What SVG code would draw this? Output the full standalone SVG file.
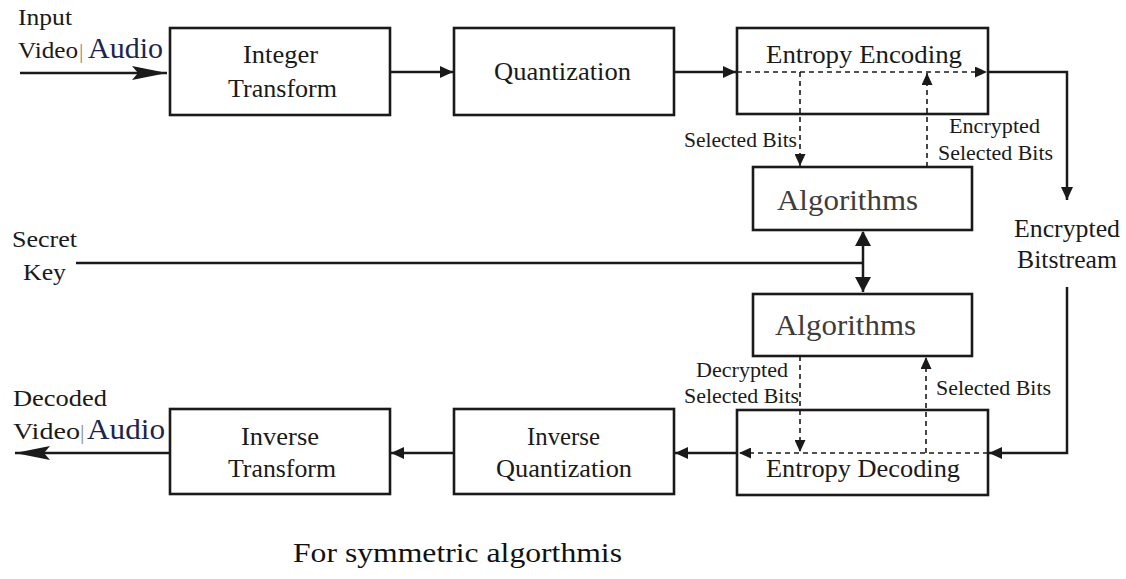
<svg xmlns="http://www.w3.org/2000/svg" width="1126" height="579" viewBox="0 0 1126 579" font-family="Liberation Serif, Times New Roman, serif">
  <defs>
    <style>
      .box { fill: #ffffff; stroke: #1a1a1a; stroke-width: 2.6; }
      .line { fill: none; stroke: #1a1a1a; stroke-width: 2.5; }
      .dash { fill: none; stroke: #1a1a1a; stroke-width: 1.6; stroke-dasharray: 5 4; }
      text { font-family: 'Liberation Serif', 'Times New Roman', serif; fill: #1a1a1a; }
      .lbl { font-size: 25px; }
      .side { font-size: 24px; }
      .small { font-size: 21px; }
      .alg { font-size: 30px; fill: #403c3c; }
      .audio { font-size: 29px; fill: #1b2550; }
      .bar { font-size: 22px; fill: #8a8a8a; }
      .caption { font-size: 28px; fill: #111111; }
    </style>
    <marker id="arr" markerUnits="userSpaceOnUse" markerWidth="14" markerHeight="12" refX="13" refY="6" orient="auto">
      <path d="M0,0 L13,6 L0,12 Z" fill="#1a1a1a"/>
    </marker>
    <marker id="arrS" markerUnits="userSpaceOnUse" markerWidth="13" markerHeight="11" refX="12" refY="5.5" orient="auto">
      <path d="M0,0 L12,5.5 L0,11 Z" fill="#1a1a1a"/>
    </marker>
    <marker id="arrStart" markerUnits="userSpaceOnUse" markerWidth="16" markerHeight="16" refX="1" refY="8" orient="auto">
      <path d="M15,0 L0,8 L15,16 Z" fill="#1a1a1a"/>
    </marker>
    <marker id="arrEnd" markerUnits="userSpaceOnUse" markerWidth="16" markerHeight="16" refX="15" refY="8" orient="auto">
      <path d="M0,0 L15,8 L0,16 Z" fill="#1a1a1a"/>
    </marker>
    <marker id="arrBig" markerUnits="userSpaceOnUse" markerWidth="36" markerHeight="16" refX="35" refY="8" orient="auto">
      <path d="M0,1 L35,8 L0,15 L6,8 Z" fill="#1a1a1a"/>
    </marker>
  </defs>

  <!-- encoder chain -->
  <g id="integer-transform">
    <rect class="box" x="170" y="28" width="220" height="87"/>
    <text class="lbl" x="243" y="63" textLength="75" lengthAdjust="spacingAndGlyphs">Integer</text>
    <text class="lbl" x="228" y="97" textLength="109" lengthAdjust="spacingAndGlyphs">Transform</text>
  </g>
  <g id="quantization">
    <rect class="box" x="454" y="28" width="220" height="87"/>
    <text class="lbl" x="494" y="80" textLength="137" lengthAdjust="spacingAndGlyphs">Quantization</text>
  </g>
  <g id="entropy-encoding">
    <rect class="box" x="737" y="28" width="251" height="86"/>
    <text class="lbl" x="766" y="63" textLength="196" lengthAdjust="spacingAndGlyphs">Entropy Encoding</text>
  </g>

  <!-- cipher blocks -->
  <g id="algorithms-encrypt">
    <rect class="box" x="753" y="167" width="219" height="63"/>
    <text class="alg" x="777" y="210" textLength="141" lengthAdjust="spacingAndGlyphs">Algorithms</text>
  </g>
  <g id="algorithms-decrypt">
    <rect class="box" x="753" y="294" width="219" height="62"/>
    <text class="alg" x="775" y="335" textLength="141" lengthAdjust="spacingAndGlyphs">Algorithms</text>
  </g>

  <!-- decoder chain -->
  <g id="entropy-decoding">
    <rect class="box" x="737" y="410" width="251" height="85"/>
    <text class="lbl" x="766" y="477" textLength="194" lengthAdjust="spacingAndGlyphs">Entropy Decoding</text>
  </g>
  <g id="inverse-quantization">
    <rect class="box" x="454" y="409" width="220" height="85"/>
    <text class="lbl" x="527" y="445" textLength="73" lengthAdjust="spacingAndGlyphs">Inverse</text>
    <text class="lbl" x="496" y="477" textLength="136" lengthAdjust="spacingAndGlyphs">Quantization</text>
  </g>
  <g id="inverse-transform">
    <rect class="box" x="170" y="409" width="220" height="85"/>
    <text class="lbl" x="241" y="445" textLength="78" lengthAdjust="spacingAndGlyphs">Inverse</text>
    <text class="lbl" x="228" y="477" textLength="108" lengthAdjust="spacingAndGlyphs">Transform</text>
  </g>

  <!-- connectors, drawn over the boxes so the dashed bit paths show inside them -->
  <g id="connectors">
    <path class="line" d="M20,73 H167" marker-end="url(#arrBig)"/>
    <path class="line" d="M390,72 H453" marker-end="url(#arr)"/>
    <path class="line" d="M674,72 H736" marker-end="url(#arr)"/>
    <path class="dash" d="M737,72 H987" marker-end="url(#arrS)"/>
    <path class="line" d="M988,72 H1067 V200" marker-end="url(#arr)"/>
    <path class="dash" d="M800,72 V166" marker-end="url(#arrS)"/>
    <path class="dash" d="M927,167 V73" marker-end="url(#arrS)"/>
    <path class="line" d="M863,232 V292" marker-start="url(#arrStart)" marker-end="url(#arrEnd)"/>
    <path class="line" d="M76,263 H863"/>
    <path class="line" d="M1067,287 V453 H989" marker-end="url(#arr)"/>
    <path class="dash" d="M988,453 H739" marker-end="url(#arrS)"/>
    <path class="dash" d="M800,356 V452" marker-end="url(#arrS)"/>
    <path class="dash" d="M926,453 V357" marker-end="url(#arrS)"/>
    <path class="line" d="M737,453 H675" marker-end="url(#arr)"/>
    <path class="line" d="M454,453 H391" marker-end="url(#arr)"/>
    <path class="line" d="M169,453 H15" marker-end="url(#arrBig)"/>
  </g>

  <!-- side labels -->
  <g id="input-label">
    <text class="side" x="18" y="25" textLength="54" lengthAdjust="spacingAndGlyphs">Input</text>
    <text class="side" x="18" y="58" textLength="60" lengthAdjust="spacingAndGlyphs">Video</text>
    <text class="bar" x="79" y="58">|</text>
    <text class="audio" x="88" y="58" textLength="75" lengthAdjust="spacingAndGlyphs">Audio</text>
  </g>
  <g id="secret-key-label">
    <text class="side" x="12" y="247" textLength="65" lengthAdjust="spacingAndGlyphs">Secret</text>
    <text class="side" x="23" y="280" textLength="43" lengthAdjust="spacingAndGlyphs">Key</text>
  </g>
  <g id="bitstream-label">
    <text class="lbl" x="1014" y="237" textLength="106" lengthAdjust="spacingAndGlyphs">Encrypted</text>
    <text class="lbl" x="1017" y="268" textLength="100" lengthAdjust="spacingAndGlyphs">Bitstream</text>
  </g>
  <g id="output-label">
    <text class="side" x="13" y="406" textLength="94" lengthAdjust="spacingAndGlyphs">Decoded</text>
    <text class="side" x="13" y="439" textLength="67" lengthAdjust="spacingAndGlyphs">Video</text>
    <text class="bar" x="80" y="439">|</text>
    <text class="audio" x="87" y="439" textLength="78" lengthAdjust="spacingAndGlyphs">Audio</text>
  </g>

  <!-- bit-path labels -->
  <g id="bit-labels">
    <text class="small" x="684" y="147" textLength="113" lengthAdjust="spacingAndGlyphs">Selected Bits</text>
    <text class="small" x="949" y="133" textLength="91" lengthAdjust="spacingAndGlyphs">Encrypted</text>
    <text class="small" x="938" y="160" textLength="115" lengthAdjust="spacingAndGlyphs">Selected Bits</text>
    <text class="small" x="696" y="377" textLength="92" lengthAdjust="spacingAndGlyphs">Decrypted</text>
    <text class="small" x="684" y="403" textLength="115" lengthAdjust="spacingAndGlyphs">Selected Bits</text>
    <text class="small" x="936" y="395" textLength="115" lengthAdjust="spacingAndGlyphs">Selected Bits</text>
  </g>

  <text class="caption" x="293" y="562" textLength="329" lengthAdjust="spacingAndGlyphs">For symmetric algorthmis</text>
</svg>
